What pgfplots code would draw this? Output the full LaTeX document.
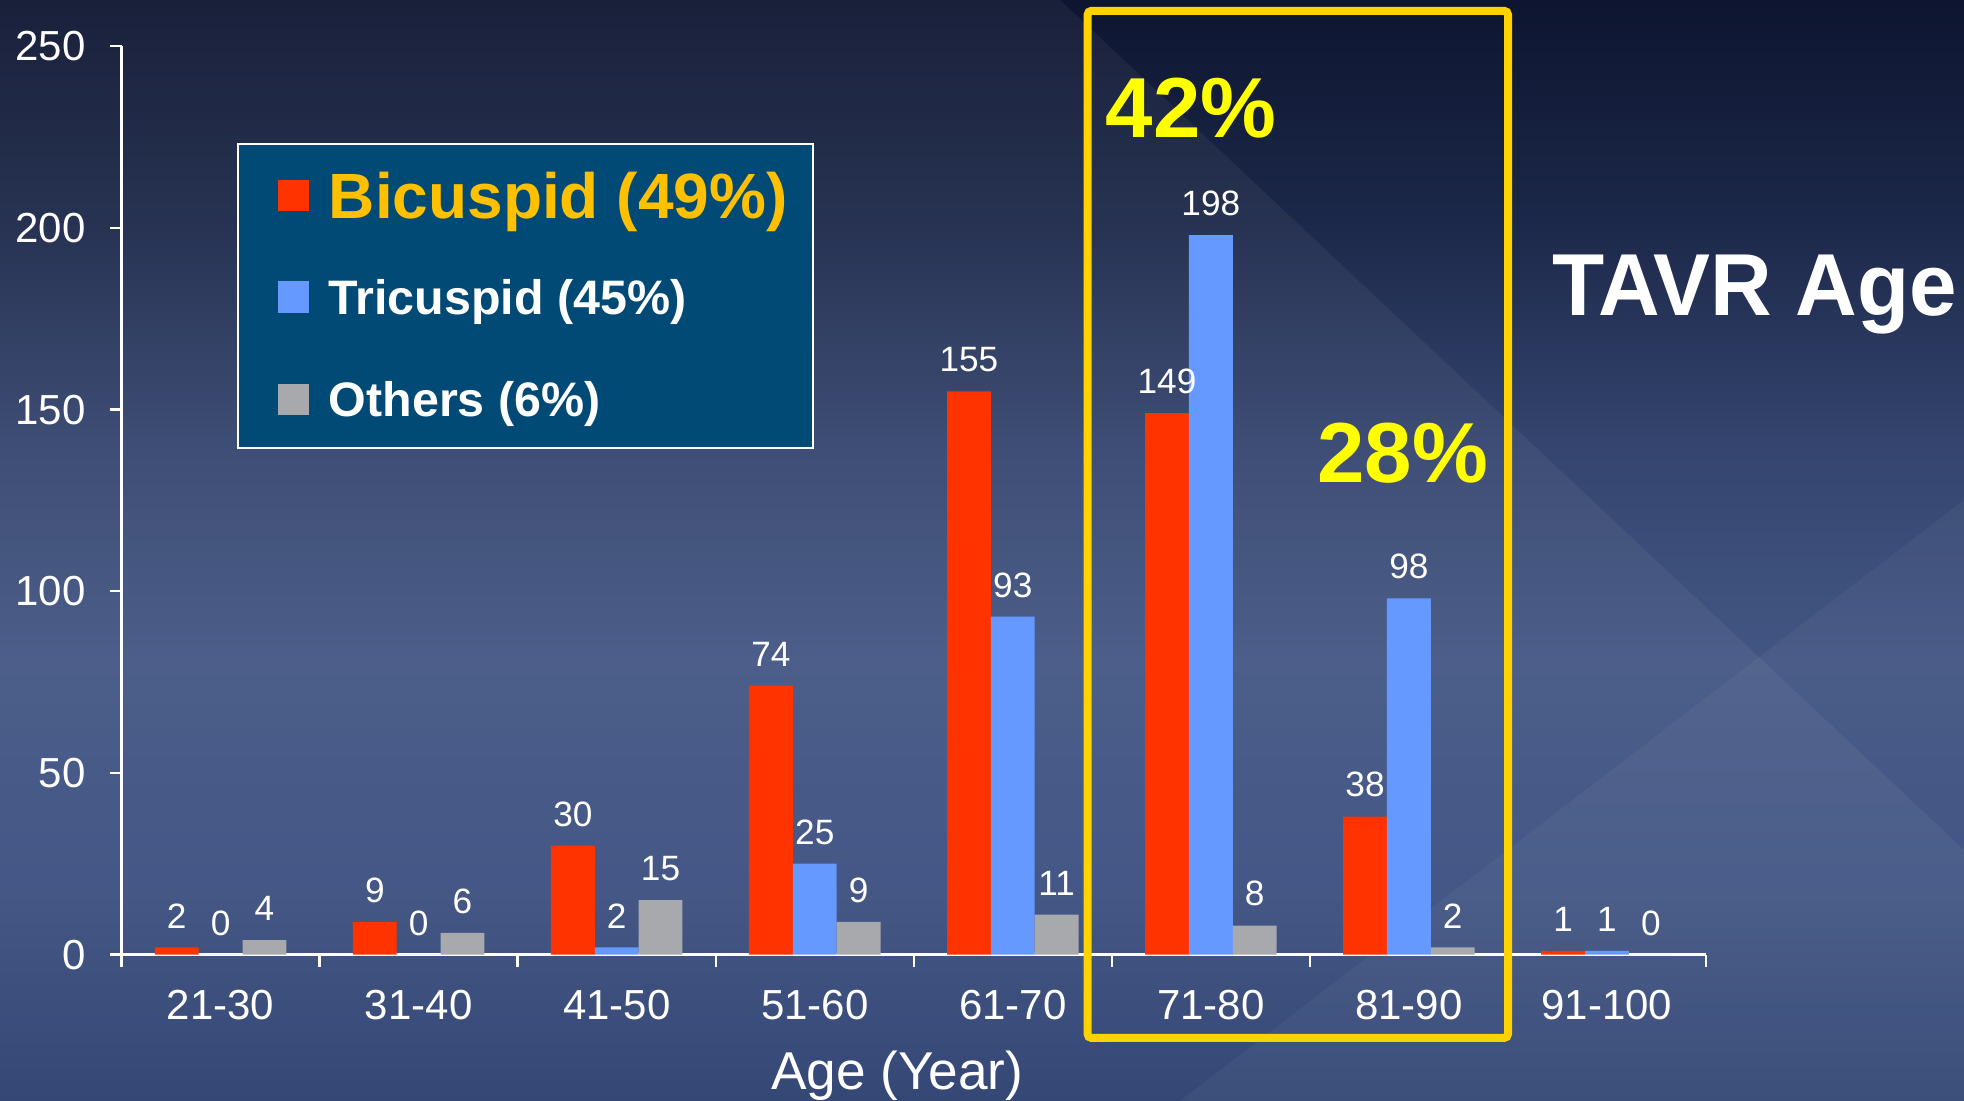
\documentclass[border=0pt]{standalone}
\usepackage{fontspec}
\setmainfont{Liberation Sans}
\usepackage{pgfplots}
\pgfplotsset{compat=1.18}

\definecolor{bic}{HTML}{FF3300}
\definecolor{tri}{HTML}{6699FF}
\definecolor{oth}{HTML}{A7A9AC}
\definecolor{legfill}{HTML}{004A75}
\definecolor{bicText}{HTML}{FFC000}
\definecolor{frameY}{HTML}{FFD200}
\definecolor{pctY}{HTML}{FFFF00}
\definecolor{bgtop}{HTML}{0D1530}
\definecolor{bgA}{HTML}{1C2849}
\definecolor{bgB}{HTML}{34446E}
\definecolor{bgC}{HTML}{435683}
\definecolor{bgD}{HTML}{3B4F80}
\definecolor{bgbot}{HTML}{2B3E6E}

\pgfdeclareverticalshading{slidebg}{100bp}{%
  color(0bp)=(bgbot); color(25bp)=(bgbot); color(35bp)=(bgD);
  color(45bp)=(bgC); color(55bp)=(bgB); color(65bp)=(bgA);
  color(75bp)=(bgtop); color(100bp)=(bgtop)}

\pgfplotstableread{
x bic tri oth
0 2   0   4
1 9   0   6
2 30  2   15
3 74  25  9
4 155 93  11
5 149 198 8
6 38  98  2
7 1   1   0
}\agedata

\begin{document}
\begin{tikzpicture}
\useasboundingbox (0pt,0pt) rectangle (491pt,275.25pt);
% slide background
\shade[shading=slidebg] (0pt,0pt) rectangle (491pt,275.25pt);
\fill[white, opacity=0.05] (265pt,275.25pt) -- (491pt,62.75pt) -- (491pt,0pt) -- (0pt,0pt) -- (0pt,275.25pt) -- cycle;
\fill[white, opacity=0.04] (491pt,150.25pt) -- (295pt,0pt) -- (491pt,0pt) -- cycle;

\begin{axis}[
  at={(30.4pt,36.6pt)}, anchor=south west,
  scale only axis, width=396.1pt, height=227.1pt,
  xmin=-0.5, xmax=7.5, ymin=0, ymax=250,
  axis x line*=bottom, axis y line*=left,
  axis line style={white, line width=0.6pt},
  ytick={0,50,...,250},
  xtick={0,...,7},
  xticklabels={21-30,31-40,41-50,51-60,61-70,71-80,81-90,91-100},
  minor xtick={-0.5,0.5,...,7.5},
  major x tick style={draw=none},
  minor x tick style={white, line width=0.6pt},
  ytick style={white, line width=0.6pt},
  tick align=outside,
  major tick length=3pt, minor tick length=3pt,
  ticklabel style={font=\fontsize{10.5}{12}\selectfont, text=white},
  /pgf/number format/assume math mode=true,
  xticklabel style={yshift=-2.3pt},
  yticklabel style={xshift=-2.5pt},
  ybar, bar width=0.2214,
  nodes near coords,
  every node near coord/.append style={font=\fontsize{8.8}{10}\selectfont,
    text=white, anchor=south, inner sep=0pt, yshift=4.6pt},
  clip=false,
]
\addplot[draw=none, fill=bic, bar shift=-0.2214] table[x=x, y=bic] {\agedata};
\addplot[draw=none, fill=tri, bar shift=0] table[x=x, y=tri] {\agedata};
\addplot[draw=none, fill=oth, bar shift=0.2214] table[x=x, y=oth] {\agedata};
\end{axis}

% axis title
\node[anchor=base, text=white, font=\fontsize{13.3}{15}\selectfont] at (224.3pt,2.75pt) {Age (Year)};

% legend
\draw[white, fill=legfill, line width=0.6pt] (59.5pt,163.2pt) rectangle (203.2pt,239.2pt);
\fill[bic] (69.5pt,222.5pt) rectangle (77.3pt,230.3pt);
\fill[tri] (69.5pt,197.1pt) rectangle (77.3pt,204.9pt);
\fill[oth] (69.5pt,171.45pt) rectangle (77.3pt,179.25pt);
\node[anchor=base west, inner sep=0pt, text=bicText, font=\bfseries\fontsize{16}{18}\selectfont] at (82pt,220.5pt) {Bicuspid (49\%)};
\node[anchor=base west, inner sep=0pt, text=white, font=\bfseries\fontsize{12.1}{14}\selectfont] at (82pt,196.7pt) {Tricuspid (45\%)};
\node[anchor=base west, inner sep=0pt, text=white, font=\bfseries\fontsize{12.1}{14}\selectfont] at (82pt,171pt) {Others (6\%)};

% highlighted age groups
\draw[frameY, line width=2pt, rounded corners=1pt] (271.9pt,15.75pt) rectangle (377.0pt,272.55pt);
\node[anchor=base, inner sep=0pt, text=pctY, font=\bfseries\fontsize{21.3}{24}\selectfont] at (297.8pt,240.9pt) {42\%};
\node[anchor=base, inner sep=0pt, text=pctY, font=\bfseries\fontsize{21.3}{24}\selectfont] at (350.7pt,154.5pt) {28\%};

% slide title
\node[anchor=base east, inner sep=0pt, text=white, font=\bfseries\fontsize{22}{26}\selectfont] at (489.5pt,196.3pt) {\scalebox{0.97}[1]{TAVR Age}};
\end{tikzpicture}
\end{document}
